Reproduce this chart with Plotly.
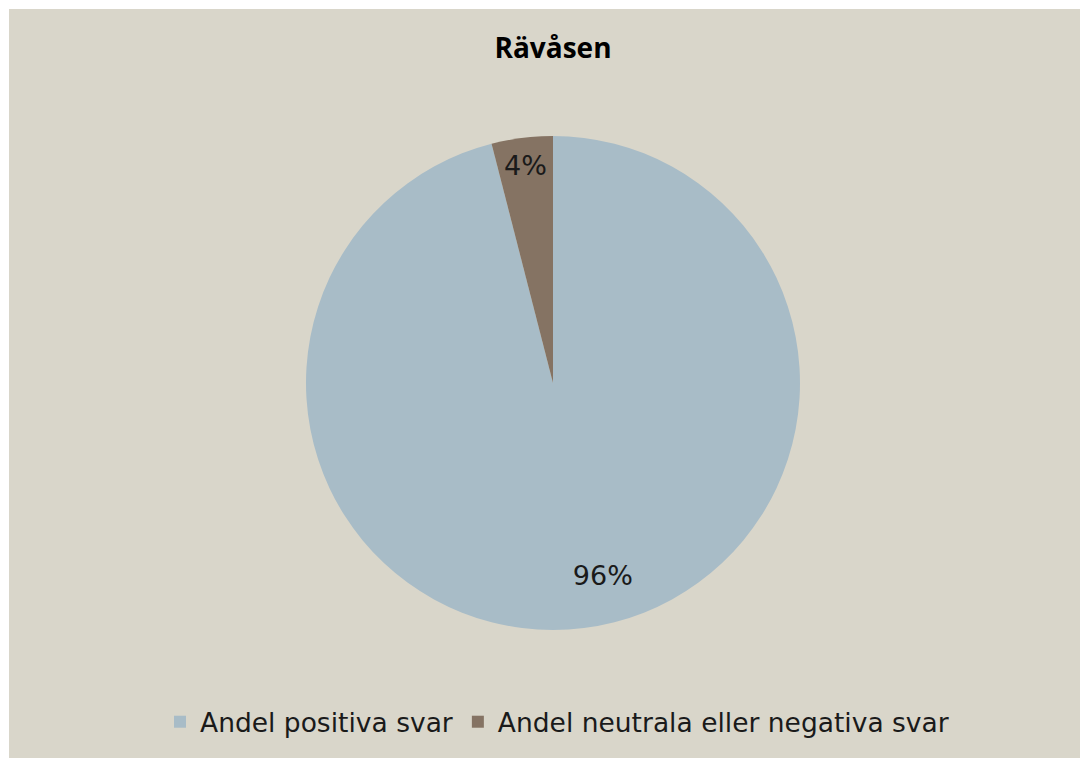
import plotly.graph_objects as go

title = "Rävåsen"
categories = ["Andel positiva svar", "Andel neutrala eller negativa svar"]
values = [96, 4]
colors = ["#A8BCC7", "#857363"]
label_templates = ["\u00a0<br>" * 4 + "\u00a0" * 8 + "%{percent:.0%}", "%{percent:.0%}"]

W, H = 1080, 758
bg = "#D9D6CA"
font = "DejaVu Sans, sans-serif"

fig = go.Figure(go.Pie(
    labels=categories,
    values=values,
    marker=dict(colors=colors, line=dict(width=0)),
    sort=False,
    direction="clockwise",
    rotation=0,
    textinfo="percent",
    texttemplate=label_templates,
    textposition="inside",
    insidetextorientation="horizontal",
    textfont=dict(family=font, size=27, color="#1a1a1a"),
    hoverinfo="label+percent",
    domain=dict(x=[306 / W, 800 / W], y=[1 - 630 / H, 1 - 136 / H]),
))

fig.update_layout(
    width=W, height=H,
    paper_bgcolor=bg,
    plot_bgcolor=bg,
    margin=dict(l=0, r=0, t=0, b=0, autoexpand=False),
    title=dict(text="<b>" + title + "</b>", x=553 / W, xanchor="center",
               y=1 - 48 / H, yanchor="middle",
               font=dict(family="Open Sans, sans-serif", size=28, color="#000000")),
    legend=dict(orientation="h", x=557 / W, xanchor="center", y=1 - 722 / H, yanchor="middle",
                font=dict(family=font, size=26.5, color="#1a1a1a"),
                itemsizing="constant", bgcolor="rgba(0,0,0,0)"),
    shapes=[
        dict(type="rect", xref="paper", yref="paper", x0=0, x1=9 / W, y0=0, y1=1,
             fillcolor="white", line=dict(width=0), layer="below"),
        dict(type="rect", xref="paper", yref="paper", x0=0, x1=1, y0=1 - 9 / H, y1=1,
             fillcolor="white", line=dict(width=0), layer="below"),
    ],
)

fig.write_html("out.html", config={"displayModeBar": False},
               post_script="document.body.style.margin='0';")
